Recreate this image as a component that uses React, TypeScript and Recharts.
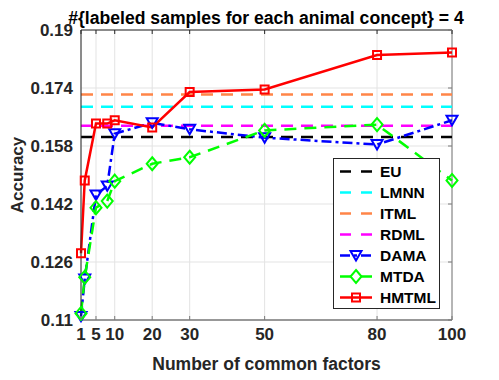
import React from 'react';
import { LineChart, Line, XAxis, YAxis, CartesianGrid, ReferenceLine, Legend } from 'recharts';

// number of common factors on the x axis
const factors = [1, 2, 5, 8, 10, 20, 30, 50, 80, 100];
const damaAcc = [0.111, 0.1213, 0.1445, 0.147, 0.1614, 0.1644, 0.1626, 0.1603, 0.1584, 0.1651];
const mtdaAcc = [0.1118, 0.1218, 0.141, 0.1428, 0.1483, 0.1531, 0.1549, 0.1623, 0.1639, 0.1485];
const hmtmlAcc = [0.1284, 0.1485, 0.1642, 0.1642, 0.1651, 0.1631, 0.1729, 0.1736, 0.1831, 0.1838];

// flat baselines (no factors)
const baselineNames = ['EU', 'LMNN', 'ITML', 'RDML'];
const baselineAcc = [0.1605, 0.1688, 0.1722, 0.1636];
const baselineColors = ['#000000', '#00ffff', '#ff8548', '#ff00ff'];

const xTicks = [1, 5, 10, 20, 30, 50, 80, 100];
const yTicks = [0.11, 0.126, 0.142, 0.158, 0.174, 0.19];

const data = factors.map((f, i) => ({
  factor: f,
  DAMA: damaAcc[i],
  MTDA: mtdaAcc[i],
  HMTML: hmtmlAcc[i],
}));

const W = 491;
const H = 372;
const M = { top: 22, right: 47, left: 13, bottom: 30 };
const Y_W = 60;
const X_H = 30;
const PLOT_TOP = M.top;
const PLOT_RIGHT = W - M.right;
const FONT = '"Liberation Sans", Arial, sans-serif';
const TXT = '#262626';

const BLUE = '#0000ff';
const GREEN = '#00ff00';
const RED = '#ff0000';

const triPath = (cx: number, cy: number) =>
  `M${cx - 5.5},${cy - 4.5} L${cx + 5.5},${cy - 4.5} L${cx},${cy + 5} Z`;
const diaPath = (cx: number, cy: number) =>
  `M${cx},${cy - 6.5} L${cx + 5.5},${cy} L${cx},${cy + 6.5} L${cx - 5.5},${cy} Z`;
const sqPath = (cx: number, cy: number) =>
  `M${cx - 4},${cy - 4} L${cx + 4},${cy - 4} L${cx + 4},${cy + 4} L${cx - 4},${cy + 4} Z`;

const TriDot = (p: any) => (
  <path key={`t${p.index}`} d={triPath(p.cx, p.cy)} fill="none" stroke={BLUE} strokeWidth={2} />
);
const DiaDot = (p: any) => (
  <path key={`d${p.index}`} d={diaPath(p.cx, p.cy)} fill="none" stroke={GREEN} strokeWidth={2} />
);
const SqDot = (p: any) => (
  <path key={`s${p.index}`} d={sqPath(p.cx, p.cy)} fill="none" stroke={RED} strokeWidth={2} />
);

const X_MARGIN = 6;
const XTick = (p: any) => (
  <g>
    <line x1={p.x} x2={p.x} y1={p.y - X_MARGIN} y2={p.y - X_MARGIN - 4} stroke="#7a7a7a" />
    <line x1={p.x} x2={p.x} y1={PLOT_TOP} y2={PLOT_TOP + 4} stroke={TXT} />
    <text x={p.x} y={p.y} dy={14} textAnchor="middle" fill={TXT}
      style={{ fontFamily: FONT, fontSize: 17, fontWeight: 700 }}>
      {p.payload.value}
    </text>
  </g>
);

const Y_MARGIN = 8;
const YTick = (p: any) => (
  <g>
    <line x1={PLOT_RIGHT} x2={PLOT_RIGHT - 4} y1={p.y} y2={p.y} stroke="#7a7a7a" />
    <text x={p.x} y={p.y} dy={6} textAnchor="end" fill={TXT}
      style={{ fontFamily: FONT, fontSize: 17, fontWeight: 700 }}>
      {p.payload.value}
    </text>
  </g>
);

const legendItems = [
  ...baselineNames.map((n, i) => ({ name: n, color: baselineColors[i], dash: '11 10', marker: null as any })),
  { name: 'DAMA', color: BLUE, dash: '10 4 3 4', marker: triPath },
  { name: 'MTDA', color: GREEN, dash: '11 10', marker: diaPath },
  { name: 'HMTML', color: RED, dash: undefined, marker: sqPath },
];

const LegendBox = () => (
  <svg width={108} height={152} style={{ display: 'block' }}>
    <rect x={0.5} y={0.5} width={106} height={150} fill="#fff" stroke={TXT} />
    {legendItems.map((it, i) => {
      const y = 13.5 + i * 21;
      return (
        <g key={it.name}>
          <line x1={7} x2={39} y1={y} y2={y} stroke={it.color} strokeWidth={2.5} strokeDasharray={it.dash} />
          {it.marker && <path d={it.marker(23, y)} fill="none" stroke={it.color} strokeWidth={2} />}
          <text x={47} y={y} dy={5.5} fill="#000" style={{ fontFamily: FONT, fontSize: 15.5, fontWeight: 700 }}>
            {it.name}
          </text>
        </g>
      );
    })}
  </svg>
);

export default function App() {
  return (
    <div style={{ position: 'relative', width: W, height: H, fontFamily: FONT }}>
      <div
        style={{
          position: 'absolute', left: 0, width: 516, top: 0,
          textAlign: 'center', whiteSpace: 'nowrap', fontSize: 17.6, fontWeight: 700, lineHeight: '20px',
          color: '#000', zIndex: 2,
        }}
      >
        {'#{labeled samples for each animal concept} = 4'}
      </div>
      <LineChart width={W} height={H} data={data} margin={M}>
        <CartesianGrid stroke="#e3e3e3" strokeWidth={1} />
        <XAxis
          dataKey="factor" type="number" domain={[1, 100]} ticks={xTicks} interval={0}
          height={X_H} tickSize={0} tickMargin={X_MARGIN} tick={<XTick />}
          axisLine={{ stroke: '#7a7a7a', strokeWidth: 1.5 }}
          label={{ value: 'Number of common factors', position: 'bottom', offset: 8,
            style: { fontFamily: FONT, fontSize: 17.5, fontWeight: 700, fill: TXT } }}
        />
        <YAxis
          type="number" domain={[0.11, 0.19]} ticks={yTicks} interval={0} width={Y_W}
          tickSize={0} tickMargin={Y_MARGIN} tick={<YTick />}
          axisLine={{ stroke: TXT, strokeWidth: 1 }}
          label={{ value: 'Accuracy', angle: -90, position: 'insideLeft', offset: -4,
            style: { fontFamily: FONT, fontSize: 17, fontWeight: 700, fill: TXT, textAnchor: 'middle' } }}
        />
        <ReferenceLine y={0.19} stroke={TXT} strokeWidth={1} />
        <ReferenceLine x={100} stroke="#7a7a7a" strokeWidth={1} />
        {baselineAcc.map((v, i) => (
          <ReferenceLine key={baselineNames[i]} y={v} stroke={baselineColors[i]} strokeWidth={2.5} strokeDasharray="12 8" />
        ))}
        <Line dataKey="DAMA" stroke={BLUE} strokeWidth={2.5} strokeDasharray="10 4 3 4" dot={TriDot} isAnimationActive={false} />
        <Line dataKey="MTDA" stroke={GREEN} strokeWidth={2.5} strokeDasharray="12 8" dot={DiaDot} isAnimationActive={false} />
        <Line dataKey="HMTML" stroke={RED} strokeWidth={2.5} dot={SqDot} isAnimationActive={false} />
        <Legend
          layout="horizontal" verticalAlign="middle" align="center" content={<LegendBox />}
          wrapperStyle={{ left: 325, top: 150, width: 108, height: 152 }}
        />
      </LineChart>
    </div>
  );
}
